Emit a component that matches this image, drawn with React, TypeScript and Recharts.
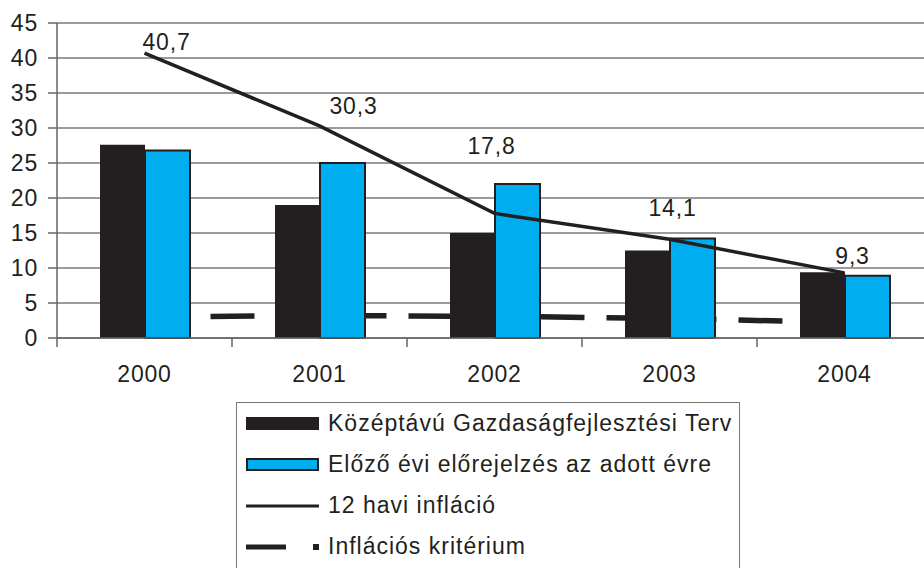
import React from "react";
import { ComposedChart, Bar, Line, XAxis, YAxis, CartesianGrid, LabelList } from "recharts";

const years = ["2000", "2001", "2002", "2003", "2004"];
const tervValues = [27.6, 19.0, 15.0, 12.5, 9.4];
const elorejelzesValues = [26.8, 25.0, 22.0, 14.2, 8.9];
const inflacioValues = [40.7, 30.3, 17.8, 14.1, 9.3];
const kriteriumValues = [3.0, 3.2, 3.1, 2.8, 2.2];
const yTicks = [0, 5, 10, 15, 20, 25, 30, 35, 40, 45];

const seriesNames = {
  terv: "Középtávú Gazdaságfejlesztési Terv",
  elorejelzes: "Előző évi előrejelzés az adott évre",
  inflacio: "12 havi infláció",
  kriterium: "Inflációs kritérium",
};

const data = years.map((year, i) => ({
  year,
  terv: tervValues[i],
  elorejelzes: elorejelzesValues[i],
  inflacio: inflacioValues[i],
  kriterium: kriteriumValues[i],
}));

const DARK = "#231f20";
const BLUE = "#00aeef";
const FONT = "'Liberation Sans', Arial, sans-serif";

// where each value label sits relative to its point (label centre)
const labelShift = [
  { dx: 22, dy: -11 },
  { dx: 34, dy: -20 },
  { dx: -3, dy: -67 },
  { dx: 3, dy: -31 },
  { dx: 8, dy: -17 },
];

const fmt = (v: number) => v.toFixed(1).replace(".", ",");

function YearTick(props: any) {
  const { x, y, payload } = props;
  const half = 87.5;
  return (
    <g>
      <line x1={x - half} x2={x - half} y1={y} y2={y + 9} stroke="#666" strokeWidth={1.5} />
      <text
        x={x}
        y={y + 36}
        textAnchor="middle"
        dominantBaseline="central"
        fontSize={23}
        letterSpacing={0.8}
        fill={DARK}
        fontFamily={FONT}
      >
        {payload.value}
      </text>
    </g>
  );
}

function ValueLabel(props: any) {
  const { x, y, value, index } = props;
  const s = labelShift[index] || { dx: 0, dy: -20 };
  return (
    <text
      x={x + s.dx}
      y={y + s.dy}
      textAnchor="middle"
      dominantBaseline="central"
      fontSize={23}
      letterSpacing={0.8}
      fill={DARK}
      fontFamily={FONT}
    >
      {fmt(value)}
    </text>
  );
}

function LegendBox() {
  const row: React.CSSProperties = { height: 41, display: "flex", alignItems: "center" };
  const text: React.CSSProperties = { marginLeft: 9, fontSize: 23, letterSpacing: 1, color: DARK };
  return (
    <div
      style={{
        position: "absolute",
        left: 236,
        top: 402,
        width: 504,
        height: 200,
        border: "1.5px solid #777",
        boxSizing: "border-box",
        paddingLeft: 9,
        fontFamily: FONT,
        background: "#fff",
      }}
    >
      <div style={row}>
        <div style={{ width: 73, height: 13, background: DARK }} />
        <span style={text}>{seriesNames.terv}</span>
      </div>
      <div style={row}>
        <div style={{ width: 73, height: 13, background: BLUE, border: `2px solid ${DARK}`, boxSizing: "border-box" }} />
        <span style={text}>{seriesNames.elorejelzes}</span>
      </div>
      <div style={row}>
        <svg width={73} height={6}>
          <line x1={0} x2={73} y1={3} y2={3} stroke={DARK} strokeWidth={3} />
        </svg>
        <span style={text}>{seriesNames.inflacio}</span>
      </div>
      <div style={row}>
        <svg width={73} height={8}>
          <rect x={0} y={1.5} width={40} height={5} fill={DARK} />
          <rect x={67} y={1} width={6} height={6} fill={DARK} />
        </svg>
        <span style={text}>{seriesNames.kriterium}</span>
      </div>
    </div>
  );
}

export default function App() {
  return (
    <div style={{ position: "relative", width: 924, height: 568, overflow: "hidden", background: "#fff" }}>
      <style>{`body{margin:0}`}</style>
      <ComposedChart
        width={932}
        height={568}
        data={data}
        margin={{ top: 23, right: 0, left: 0, bottom: 170 }}
        barSize={45}
        barGap={0}
      >
        <CartesianGrid vertical={false} stroke="#7a7a7a" strokeWidth={1.5} />
        <XAxis
          dataKey="year"
          height={60}
          tickSize={0}
          tickMargin={0}
          tickLine={false}
          axisLine={{ stroke: "#666", strokeWidth: 1.5 }}
          tick={<YearTick />}
          interval={0}
        />
        <YAxis
          width={57}
          domain={[0, 45]}
          ticks={yTicks}
          interval={0}
          tickSize={9}
          tickMargin={10}
          axisLine={{ stroke: "#666", strokeWidth: 1.5 }}
          tickLine={{ stroke: "#666", strokeWidth: 1.5 }}
          tick={{ fontSize: 23, fill: DARK, fontFamily: FONT, letterSpacing: 0.8 }}
        />
        {/* the criterion line runs behind the bars */}
        <Line
          dataKey="kriterium"
          name={seriesNames.kriterium}
          stroke={DARK}
          strokeWidth={5.5}
          strokeDasharray="44 22"
          dot={false}
          activeDot={false}
          isAnimationActive={false}
          {...({ zIndex: 250 } as any)}
        />
        <Bar dataKey="terv" name={seriesNames.terv} fill={DARK} isAnimationActive={false} />
        <Bar
          dataKey="elorejelzes"
          name={seriesNames.elorejelzes}
          fill={BLUE}
          stroke={DARK}
          strokeWidth={2}
          isAnimationActive={false}
        />
        <Line
          dataKey="inflacio"
          name={seriesNames.inflacio}
          stroke={DARK}
          strokeWidth={3.5}
          dot={false}
          activeDot={false}
          isAnimationActive={false}
        >
          <LabelList dataKey="inflacio" content={<ValueLabel />} />
        </Line>
      </ComposedChart>
      <LegendBox />
    </div>
  );
}
